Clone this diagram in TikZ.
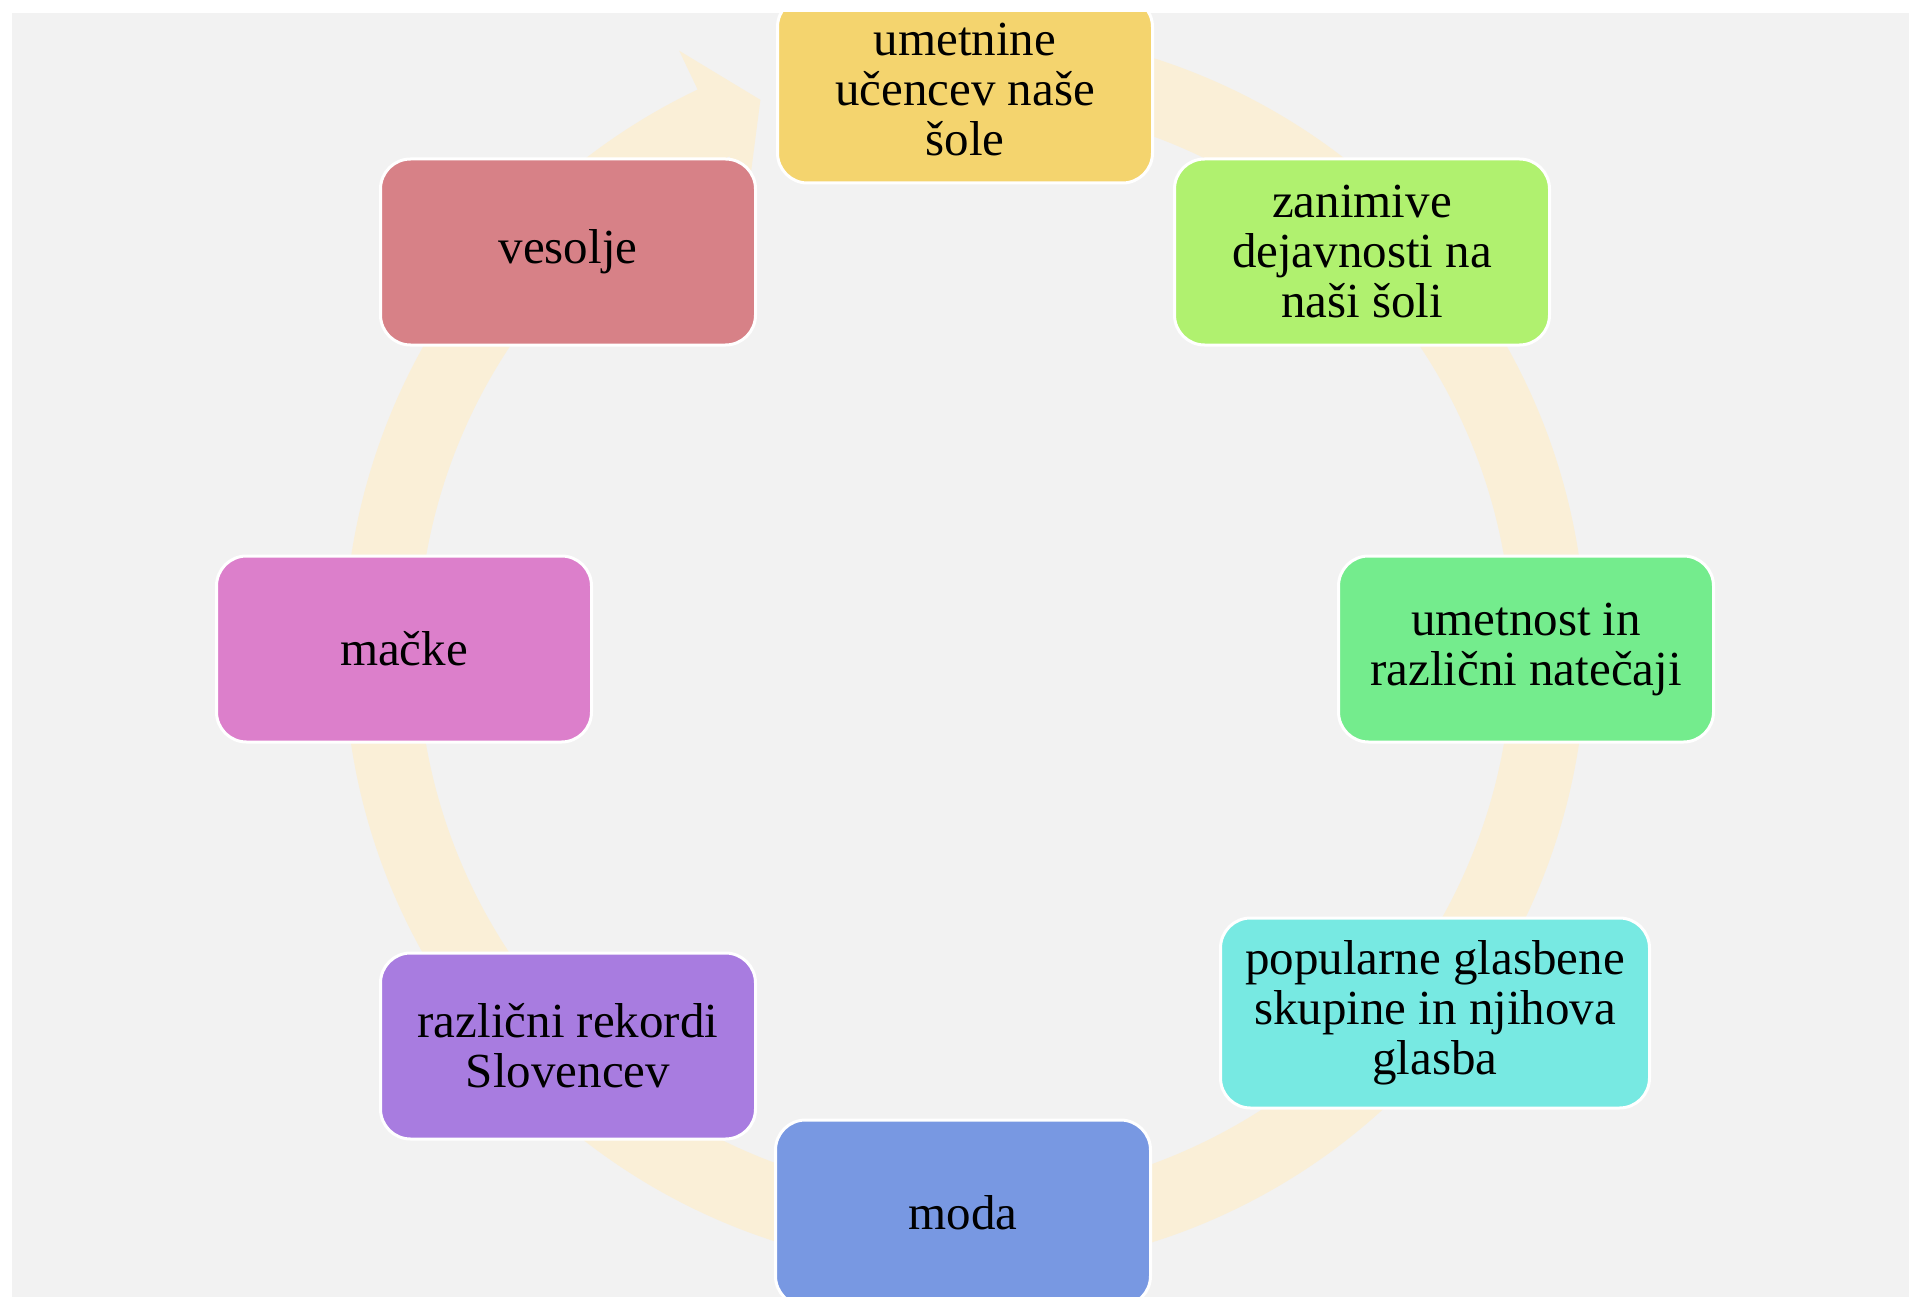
\documentclass[tikz,border=0pt]{standalone}
\usepackage{fontspec}
\setmainfont{Liberation Serif}
\definecolor{bggray}{HTML}{F2F2F2}
\definecolor{ringcol}{HTML}{FAEFD7}
\definecolor{cyellow}{HTML}{F4D46E}
\definecolor{clgreen}{HTML}{B0F16F}
\definecolor{cgreen}{HTML}{74EC8D}
\definecolor{ccyan}{HTML}{77E9E2}
\definecolor{cblue}{HTML}{7898E2}
\definecolor{cpurple}{HTML}{A87CE0}
\definecolor{cmagenta}{HTML}{DC7FCB}
\definecolor{cred}{HTML}{D78187}
\begin{document}
\begin{tikzpicture}[x=1pt,y=-1pt,
  box/.style={rectangle, rounded corners=30pt, draw=white, line width=3pt,
    minimum width=375pt, minimum height=186pt, inner sep=0pt, align=center,
    font=\fontsize{49}{50}\selectfont, text=black}]
\useasboundingbox (0,0) rectangle (1909,1297);
\fill[white] (0,0) rectangle (1909,1297);
\begin{scope}
\clip (12,13) rectangle (1909,1297);
\fill[bggray] (12,13) rectangle (1909,1297);
\begin{scope}[shift={(965,650)}, yscale=-1]
\fill[ringcol] (90:621) arc[start angle=90, end angle=-244.5, radius=621]
  -- (-244.5:664) -- (-249.6:587) -- (-244.5:504) -- (-244.5:547)
  arc[start angle=-244.5, end angle=90, radius=547] -- cycle;
\end{scope}
\node[box, fill=cyellow] (n1) at (965,90) {umetnine\\učencev naše\\šole};
\node[box, fill=clgreen] (n2) at (1362,252) {zanimive\\dejavnosti na\\naši šoli};
\node[box, fill=cgreen] (n3) at (1526,649) {umetnost in\\različni natečaji};
\node[box, fill=ccyan, minimum width=429pt, minimum height=190pt] (n4) at (1435,1013) {popularne glasbene\\skupine in njihova\\glasba};
\node[box, fill=cblue] (n5) at (963,1213) {moda};
\node[box, fill=cpurple] (n6) at (568,1046) {različni rekordi\\Slovencev};
\node[box, fill=cmagenta] (n7) at (404,649) {mačke};
\node[box, fill=cred] (n8) at (568,252) {vesolje};
\end{scope}
\end{tikzpicture}
\end{document}
